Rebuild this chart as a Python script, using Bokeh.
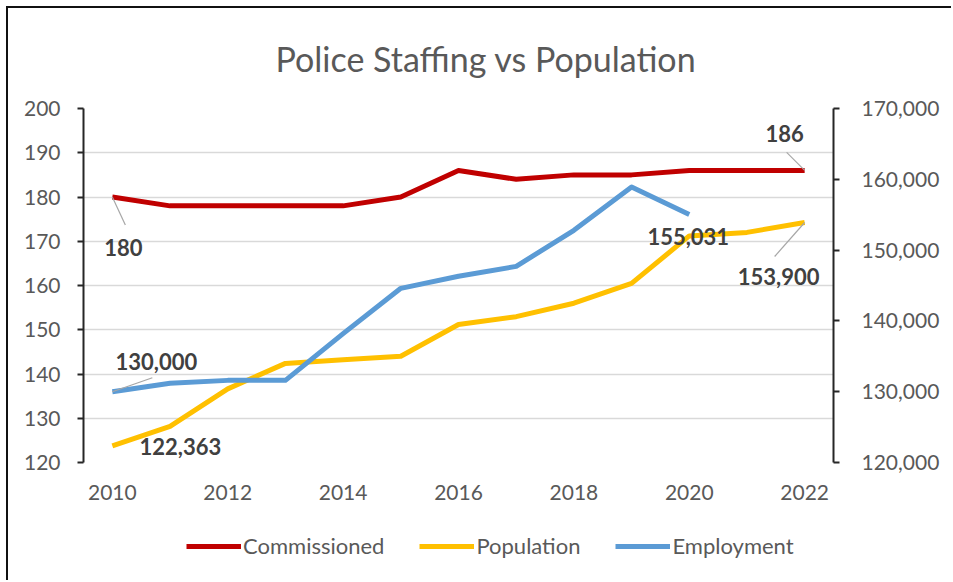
from bokeh.plotting import figure
from bokeh.layouts import column
from bokeh.models import (Range1d, LinearAxis, FixedTicker, NumeralTickFormatter,
                          Legend, LegendItem)
from bokeh.core.properties import value
from bokeh.embed import file_html
from bokeh.resources import INLINE

years = [2010, 2011, 2012, 2013, 2014, 2015, 2016, 2017, 2018, 2019, 2020, 2021, 2022]
commissioned = [180, 178, 178, 178, 178, 180, 186, 184, 185, 185, 186, 186, 186]
population = [122363, 125100, 130400, 134000, 134500, 135000, 139500, 140600,
              142500, 145300, 152000, 152500, 153900]
emp_years = [2010, 2011, 2012, 2013, 2014, 2015, 2016, 2017, 2018, 2019, 2020]
employment = [130000, 131200, 131600, 131600, 138200, 144600, 146300, 147700,
              152800, 158900, 155031]
x_ticks = [2010, 2012, 2014, 2016, 2018, 2020, 2022]
left_ticks = [120, 130, 140, 150, 160, 170, 180, 190, 200]
right_ticks = [120000, 130000, 140000, 150000, 160000, 170000]

RED = "#C00000"
YEL = "#FFC000"
BLU = "#5B9BD5"
GRAY = "#595959"
FONT = "Lato"

W, H1, H2 = 943, 515, 57
ML, MT = 75, 100
FW, FH = 750, 354
MR, MB = W - ML - FW, H1 - MT - FH

p = figure(width=W, height=H1, output_backend="svg", toolbar_location=None,
           x_range=Range1d(2009.5, 2022.5), y_range=Range1d(120, 200),
           min_border_left=ML, min_border_right=MR, min_border_top=MT,
           min_border_bottom=MB, title="Police Staffing vs Population")
p.outline_line_color = None

p.title.align = "left"
p.title.offset = 192
p.title.vertical_align = "top"
p.title.text_font = FONT
p.title.text_font_style = "normal"
p.title.text_font_size = "34px"
p.title.text_color = GRAY
p.title.standoff = 56

p.extra_y_ranges = {"pop": Range1d(120000, 170000)}

# x axis
xa = p.xaxis[0]
xa.ticker = FixedTicker(ticks=x_ticks)
xa.axis_line_color = None
xa.major_tick_line_color = None
xa.major_tick_out = 0
xa.major_tick_in = 0
xa.minor_tick_line_color = None
xa.major_label_text_font = FONT
xa.major_label_text_font_size = "21px"
xa.major_label_text_color = GRAY
xa.major_label_standoff = 22

# left axis
ya = p.yaxis[0]
ya.ticker = FixedTicker(ticks=left_ticks)
ya.axis_line_color = "#262626"
ya.axis_line_width = 2
ya.major_tick_line_color = "#262626"
ya.major_tick_line_width = 2
ya.major_tick_out = 6
ya.major_tick_in = 0
ya.minor_tick_line_color = None
ya.major_label_text_font = FONT
ya.major_label_text_font_size = "21px"
ya.major_label_text_color = GRAY
ya.major_label_standoff = 17

# right axis
ra = LinearAxis(y_range_name="pop", ticker=FixedTicker(ticks=right_ticks),
                formatter=NumeralTickFormatter(format="0,0"))
ra.axis_line_color = "#262626"
ra.axis_line_width = 2
ra.major_tick_line_color = "#262626"
ra.major_tick_line_width = 2
ra.major_tick_out = 6
ra.major_tick_in = 0
ra.minor_tick_line_color = None
ra.major_label_text_font = FONT
ra.major_label_text_font_size = "21px"
ra.major_label_text_color = GRAY
ra.major_label_standoff = 22
p.add_layout(ra, "right")

p.xgrid.grid_line_color = None
p.ygrid.ticker = FixedTicker(ticks=left_ticks)
p.ygrid.grid_line_color = "#d9d9d9"
p.ygrid.grid_line_width = 1.3

p.line(years, commissioned, line_color=RED, line_width=5, line_join="round")
p.line(years, population, line_color=YEL, line_width=5, line_join="round",
       y_range_name="pop")
p.line(emp_years, employment, line_color=BLU, line_width=5, line_join="round",
       y_range_name="pop")

# pixel -> data conversions
PX_X = 13.0 / FW
PX_L = 80.0 / FH
PX_R = 50000.0 / FH

def leader(x, y, dx, dy, per_y, rng):
    kw = {} if rng is None else {"y_range_name": rng}
    p.segment(x0=[x], y0=[y], x1=[x + dx * PX_X], y1=[y - dy * per_y],
              line_color="#a6a6a6", line_width=1.2, **kw)

leader(years[0], commissioned[0], 13, 28, PX_L, None)
leader(years[-1], commissioned[-1], -18, -18, PX_L, None)
leader(emp_years[0], employment[0], 40, -14, PX_R, "pop")
leader(years[-1], population[-1], -30, 34, PX_R, "pop")

LBL = dict(text_font=value(FONT), text_font_style="bold", text_font_size="22px",
           text_color="#404040", text_align="center", text_baseline="middle")

def lab(x, y, txt, dx, dy, rng=None):
    kw = {} if rng is None else {"y_range_name": rng}
    p.text(x=[x], y=[y], text=[txt], x_offset=dx, y_offset=dy, **LBL, **kw)

lab(years[0], commissioned[0], f"{commissioned[0]}", 11, 50)
lab(years[-1], commissioned[-1], f"{commissioned[-1]}", -20, -37)
lab(emp_years[0], employment[0], f"{employment[0]:,}", 44, -30, "pop")
lab(years[0], population[0], f"{population[0]:,}", 68, 1, "pop")
lab(emp_years[-1], employment[-1], f"{employment[-1]:,}", -1, 22, "pop")
lab(years[-1], population[-1], f"{population[-1]:,}", -26, 54, "pop")

# legend strip below the chart (its lines fall outside its view)
q = figure(width=W, height=H2, output_backend="svg", toolbar_location=None,
           x_range=Range1d(0, 1), y_range=Range1d(0, 1),
           x_axis_location=None, y_axis_location=None,
           min_border_left=0, min_border_right=0, min_border_top=0, min_border_bottom=0)
q.outline_line_color = None
q.grid.visible = False
l_c = q.line(years, commissioned, line_color=RED, line_width=5)
l_p = q.line(years, population, line_color=YEL, line_width=5)
l_e = q.line(emp_years, employment, line_color=BLU, line_width=5)

legend = Legend(items=[LegendItem(label="Commissioned", renderers=[l_c]),
                       LegendItem(label="Population", renderers=[l_p]),
                       LegendItem(label="Employment", renderers=[l_e])],
                orientation="horizontal", location=(103, 21))
legend.background_fill_alpha = 0
legend.border_line_color = None
legend.padding = 0
legend.margin = 0
legend.spacing = 35
legend.glyph_width = 55
legend.glyph_height = 20
legend.label_height = 20
legend.label_standoff = 2
legend.label_text_font = FONT
legend.label_text_font_size = "22px"
legend.label_text_color = GRAY
q.add_layout(legend, "center")

layout = column(p, q, spacing=0)
layout.styles = {"margin-left": "6px", "margin-top": "6px",
                 "border-top": "2px solid #111", "border-left": "2px solid #111"}

open("out.html", "w").write(file_html(layout, INLINE))
